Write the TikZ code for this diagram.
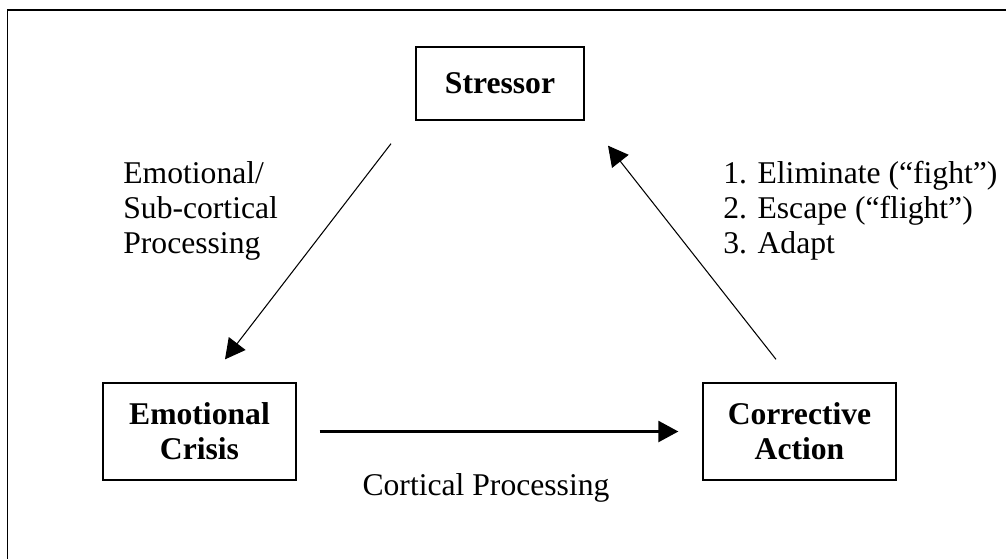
\documentclass[tikz,border=0pt]{standalone}
\usepackage{fontspec}
\setmainfont{Liberation Serif}
\usetikzlibrary{arrows.meta}

\begin{document}
\begin{tikzpicture}
  [
    >={Triangle[length=0.4cm,width=0.42cm]},
    node distance=12cm,
    main node/.style={rectangle, draw, line width=0.75pt, align=center,
      font=\fontsize{18}{20}\selectfont\bfseries},
    text node/.style={inner sep=0pt, font=\fontsize{18}{20}\selectfont}
    ]
   \tikzstyle{arrow} = [->, line width=0.6pt]

  \useasboundingbox (0,0) rectangle (20.12,-11.16);
  \draw[line width=0.9pt] (20.5,-0.2) -- (0.15,-0.2) -- (0.15,-11.5);

  \node[main node, minimum width=3.36cm, minimum height=1.46cm] (stressor) at (10,-1.67) {Stressor};
  \node[main node, minimum width=3.86cm, minimum height=1.94cm] (crisis) at (3.99,-8.63) {Emotional\\Crisis};
  \node[main node, minimum width=3.86cm, minimum height=1.94cm] (action) [right of=crisis] {Corrective\\Action};

  \node[text node, anchor=north west, align=left] (subcortical) at (2.46,-3.22) {Emotional/\\Sub-cortical\\Processing};
  \node[text node, anchor=north west, align=left] (responses) at (14.46,-3.22) {1. Eliminate (“fight”)\\2. Escape (“flight”)\\3. Adapt};
  \node[text node, anchor=base] (cortical) at (9.72,-9.9) {Cortical Processing};

  \draw[arrow] ([xshift=-2.18cm,yshift=-0.46cm]stressor.south) -- ([xshift=0.51cm,yshift=0.46cm]crisis.north);
  \draw[arrow] ([xshift=-0.47cm,yshift=0.46cm]action.north) -- ([xshift=2.16cm,yshift=-0.5cm]stressor.south);
  \draw[arrow, line width=1.4pt, shorten <=0.46cm, shorten >=0.48cm] (crisis) -- (action);

\end{tikzpicture}
\end{document}
